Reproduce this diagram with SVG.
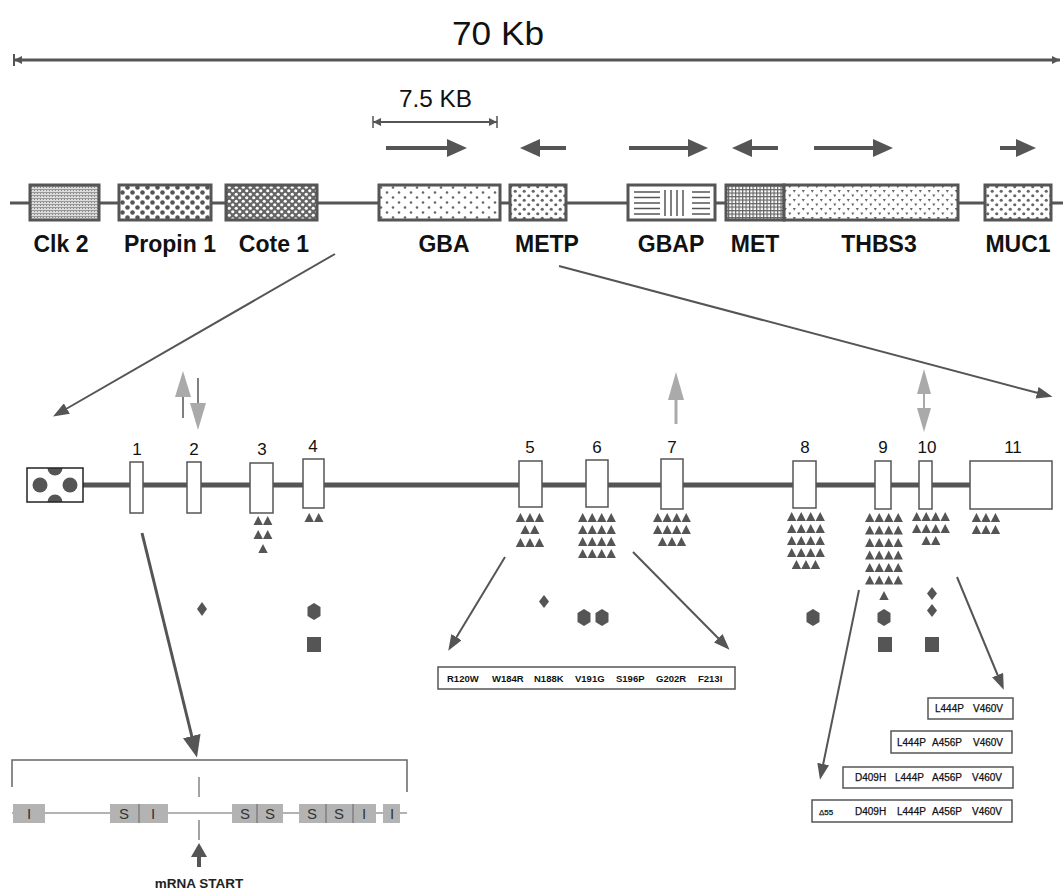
<svg xmlns="http://www.w3.org/2000/svg" xmlns:xlink="http://www.w3.org/1999/xlink" width="1063" height="891" viewBox="0 0 1063 891">
<style>
.lbl{font-family:"Liberation Sans",Arial,sans-serif;font-weight:bold;font-size:23px;fill:#111;text-anchor:middle}
.num{font-family:"Liberation Sans",Arial,sans-serif;font-size:17px;fill:#111;text-anchor:middle}
.mut{font-family:"Liberation Sans",Arial,sans-serif;font-weight:bold;font-size:9.5px;fill:#111}
.mut2{font-family:"Liberation Sans",Arial,sans-serif;font-size:10px;fill:#111;stroke:#111;stroke-width:0.25}
.gb{font-family:"Liberation Sans",Arial,sans-serif;font-size:15px;fill:#333;text-anchor:middle}
.gene{stroke:#555;stroke-width:3}
.exon{fill:#fff;stroke:#555;stroke-width:1.5}
.conn{stroke:#555;fill:none}
.mbox{fill:#fff;stroke:#555;stroke-width:1.5}
</style>
<defs>
<pattern id="pClk" width="3" height="3" patternUnits="userSpaceOnUse"><rect width="3" height="3" fill="#ddd"/><rect width="3" height="1" fill="#999"/><rect x="1" y="1" width="1" height="1" fill="#888"/></pattern>
<pattern id="pProp" width="10" height="10" patternUnits="userSpaceOnUse"><rect width="10" height="10" fill="#fff"/><circle cx="2.5" cy="2.5" r="2.3" fill="#555"/><circle cx="7.5" cy="7.5" r="2.3" fill="#555"/></pattern>
<pattern id="pCote" width="7" height="7" patternUnits="userSpaceOnUse"><rect width="7" height="7" fill="#666"/><circle cx="1.75" cy="1.75" r="1.6" fill="#fff"/><circle cx="5.25" cy="5.25" r="1.6" fill="#fff"/></pattern>
<pattern id="pGba" width="12" height="10" patternUnits="userSpaceOnUse"><rect width="12" height="10" fill="#fff"/><circle cx="3" cy="2.5" r="1.3" fill="#666"/><circle cx="9" cy="7.5" r="1.3" fill="#666"/></pattern>
<pattern id="pMetp" width="9" height="9" patternUnits="userSpaceOnUse"><rect width="9" height="9" fill="#fff"/><circle cx="2.25" cy="2.25" r="1.6" fill="#666"/><circle cx="6.75" cy="6.75" r="1.6" fill="#666"/></pattern>
<pattern id="pMet" width="3.5" height="3.5" patternUnits="userSpaceOnUse"><rect width="3.5" height="3.5" fill="#fff"/><rect width="3.5" height="1.2" fill="#666"/><rect width="1.2" height="3.5" fill="#666"/></pattern>
<pattern id="pThbs" width="9" height="9" patternUnits="userSpaceOnUse"><rect width="9" height="9" fill="#fff"/><path d="M0.8,1 L3.8,1 L2.3,3.8 Z" fill="#666"/><path d="M5.3,5.5 L8.3,5.5 L6.8,8.3 Z" fill="#666"/></pattern>
<path id="t" d="M0,9 L4.7,0 L9.4,9 Z" fill="#555"/>
<marker id="mBig" viewBox="0 0 20 18" refX="1" refY="9" markerWidth="20" markerHeight="18" markerUnits="userSpaceOnUse" orient="auto"><path d="M0,0 L20,9 L0,18 Z" fill="#555"/></marker>
<marker id="mArr" viewBox="0 0 16 12" refX="1" refY="6" markerWidth="16" markerHeight="12" markerUnits="userSpaceOnUse" orient="auto"><path d="M0,0 L16,6 L0,12 Z" fill="#555"/></marker>
<marker id="mThick" viewBox="0 0 22 18" refX="1" refY="9" markerWidth="22" markerHeight="18" markerUnits="userSpaceOnUse" orient="auto"><path d="M0,0 L22,9 L0,18 Z" fill="#555"/></marker>
<marker id="mSm" viewBox="0 0 8 8" refX="8" refY="4" markerWidth="8" markerHeight="8" markerUnits="userSpaceOnUse" orient="auto-start-reverse"><path d="M0,0 L8,4 L0,8 Z" fill="#555"/></marker>
<clipPath id="cProm"><rect x="27" y="468" width="56" height="34"/></clipPath>
</defs>
<rect width="1063" height="891" fill="#fff"/>

<g id="scale70">
<text x="498" y="45" font-family="'Liberation Sans',Arial,sans-serif" font-size="34" fill="#111" text-anchor="middle" textLength="92" lengthAdjust="spacingAndGlyphs">70 Kb</text>
<line x1="14" y1="60" x2="1060" y2="60" stroke="#555" stroke-width="3" marker-start="url(#mSm)" marker-end="url(#mSm)"/>
<line x1="14" y1="54" x2="14" y2="66" stroke="#555" stroke-width="2"/>
</g>
<g id="scale75">
<text x="399" y="107" font-family="'Liberation Sans',Arial,sans-serif" font-size="23" fill="#111" textLength="73" lengthAdjust="spacingAndGlyphs">7.5 KB</text>
<line x1="373" y1="122" x2="497" y2="122" stroke="#555" stroke-width="2" marker-start="url(#mSm)" marker-end="url(#mSm)"/>
<line x1="373" y1="116" x2="373" y2="128" stroke="#555" stroke-width="1.5"/>
<line x1="497" y1="116" x2="497" y2="128" stroke="#555" stroke-width="1.5"/>
</g>

<g id="direction-arrows" stroke="#555" stroke-width="4">
<line x1="386" y1="148" x2="448" y2="148" marker-end="url(#mBig)"/>
<line x1="566" y1="148" x2="539" y2="148" marker-end="url(#mBig)"/>
<line x1="629" y1="148" x2="689" y2="148" marker-end="url(#mBig)"/>
<line x1="778" y1="148" x2="751" y2="148" marker-end="url(#mBig)"/>
<line x1="814" y1="148" x2="874" y2="148" marker-end="url(#mBig)"/>
<line x1="1000" y1="148" x2="1017" y2="148" marker-end="url(#mBig)"/>
</g>

<g id="chromosome">
<line x1="10" y1="203" x2="1063" y2="203" stroke="#555" stroke-width="3"/>
</g>
<g id="gene-clk2"><rect x="30" y="185" width="69" height="35" fill="url(#pClk)" class="gene"/><text x="61" y="252" class="lbl">Clk 2</text></g>
<g id="gene-propin1"><rect x="119" y="185" width="92" height="35" fill="url(#pProp)" class="gene"/><text x="170" y="252" class="lbl">Propin 1</text></g>
<g id="gene-cote1"><rect x="226" y="185" width="91" height="35" fill="url(#pCote)" class="gene"/><text x="274" y="252" class="lbl">Cote 1</text></g>
<g id="gene-gba"><rect x="379" y="185" width="121" height="35" fill="url(#pGba)" class="gene"/><text x="444" y="252" class="lbl">GBA</text></g>
<g id="gene-metp"><rect x="510" y="185" width="56" height="35" fill="url(#pMetp)" class="gene"/><text x="547" y="252" class="lbl">METP</text></g>
<g id="gene-gbap"><rect x="628" y="185" width="87" height="35" fill="#fff" class="gene"/>
<g stroke="#555" stroke-width="1.5">
<line x1="634" y1="192" x2="660" y2="192"/><line x1="634" y1="197.5" x2="660" y2="197.5"/><line x1="634" y1="203" x2="660" y2="203"/><line x1="634" y1="208.5" x2="660" y2="208.5"/><line x1="634" y1="214" x2="660" y2="214"/>
<line x1="665" y1="190" x2="665" y2="216"/><line x1="671" y1="190" x2="671" y2="216"/><line x1="677" y1="190" x2="677" y2="216"/><line x1="683" y1="190" x2="683" y2="216"/>
<line x1="692" y1="192" x2="710" y2="192"/><line x1="692" y1="197.5" x2="710" y2="197.5"/><line x1="692" y1="203" x2="710" y2="203"/><line x1="692" y1="208.5" x2="710" y2="208.5"/><line x1="692" y1="214" x2="710" y2="214"/>
</g>
<text x="671" y="252" class="lbl">GBAP</text></g>
<g id="gene-met"><rect x="726" y="185" width="58" height="35" fill="url(#pMet)" class="gene"/><text x="755" y="252" class="lbl">MET</text></g>
<g id="gene-thbs3"><rect x="784" y="185" width="174" height="35" fill="url(#pThbs)" class="gene"/><text x="879" y="252" class="lbl">THBS3</text></g>
<g id="gene-muc1"><rect x="985" y="185" width="66" height="35" fill="url(#pMetp)" class="gene"/><text x="1018" y="252" class="lbl">MUC1</text></g>

<g id="connectors">
<line x1="335" y1="254" x2="66" y2="409" class="conn" stroke-width="2" marker-end="url(#mArr)"/>
<line x1="559" y1="266" x2="1038" y2="393" class="conn" stroke-width="2" marker-end="url(#mArr)"/>
<line x1="142" y1="533" x2="192" y2="737" class="conn" stroke-width="3" marker-end="url(#mThick)"/>
<line x1="505" y1="557" x2="456" y2="638" class="conn" stroke-width="2" marker-end="url(#mArr)"/>
<line x1="633" y1="552" x2="719" y2="639" class="conn" stroke-width="2" marker-end="url(#mArr)"/>
<line x1="859" y1="590" x2="823" y2="765" class="conn" stroke-width="2" marker-end="url(#mArr)"/>
<line x1="957" y1="577" x2="998" y2="676" class="conn" stroke-width="2" marker-end="url(#mArr)"/>
</g>

<g id="gray-arrows">
<line x1="183" y1="418" x2="183" y2="396" stroke="#555" stroke-width="1.5"/>
<path d="M175,397 L183,371 L191,397 Z" fill="#aaa"/>
<line x1="198" y1="378" x2="198" y2="404" stroke="#555" stroke-width="1.5"/>
<path d="M190,403 L198,430 L206,403 Z" fill="#aaa"/>
<line x1="676" y1="424" x2="676" y2="398" stroke="#aaa" stroke-width="3"/>
<path d="M668,400 L676,372 L684,400 Z" fill="#aaa"/>
<line x1="924" y1="392" x2="924" y2="410" stroke="#aaa" stroke-width="2"/>
<path d="M917,394 L924,369 L931,394 Z" fill="#aaa"/>
<path d="M917,408 L924,432 L931,408 Z" fill="#aaa"/>
</g>

<g id="gba-gene">
<line x1="83" y1="485" x2="975" y2="485" stroke="#555" stroke-width="5"/>
<g id="promoter">
<rect x="27" y="468" width="56" height="34" fill="#fff"/>
<g clip-path="url(#cProm)" fill="#555">
<circle cx="40" cy="485" r="7.5"/><circle cx="70" cy="485" r="7.5"/><circle cx="55" cy="468" r="7.5"/><circle cx="55" cy="502" r="7.5"/>
</g>
<rect x="27" y="468" width="56" height="34" fill="none" stroke="#222" stroke-width="1.5"/>
</g>
</g>

<g id="exon1"><rect x="130" y="462" width="13" height="51" class="exon"/><text x="137" y="455" class="num">1</text></g>
<g id="exon2"><rect x="187" y="462" width="14" height="51" class="exon"/><text x="194" y="455" class="num">2</text></g>
<g id="exon3"><rect x="250" y="463" width="23" height="50" class="exon"/><text x="262" y="455" class="num">3</text>
<use href="#t" x="253.5" y="516"/><use href="#t" x="263" y="516"/>
<use href="#t" x="253.5" y="530"/><use href="#t" x="263" y="530"/>
<use href="#t" x="258.3" y="544"/></g>
<g id="exon4"><rect x="303" y="459" width="21" height="49" class="exon"/><text x="313" y="452" class="num">4</text>
<use href="#t" x="304.5" y="513"/><use href="#t" x="314" y="513"/></g>
<g id="exon5"><rect x="519" y="461" width="23" height="46" class="exon"/><text x="530" y="453" class="num">5</text>
<use href="#t" x="515.75" y="513"/><use href="#t" x="525.25" y="513"/><use href="#t" x="534.75" y="513"/>
<use href="#t" x="520.5" y="525"/><use href="#t" x="530" y="525"/>
<use href="#t" x="515.75" y="538"/><use href="#t" x="525.25" y="538"/><use href="#t" x="534.75" y="538"/></g>
<g id="exon6"><rect x="586" y="460" width="22" height="47" class="exon"/><text x="597" y="453" class="num">6</text>
<use href="#t" x="578" y="513"/><use href="#t" x="587.5" y="513"/><use href="#t" x="597" y="513"/><use href="#t" x="606.5" y="513"/>
<use href="#t" x="578" y="525"/><use href="#t" x="587.5" y="525"/><use href="#t" x="597" y="525"/><use href="#t" x="606.5" y="525"/>
<use href="#t" x="578" y="537"/><use href="#t" x="587.5" y="537"/><use href="#t" x="597" y="537"/><use href="#t" x="606.5" y="537"/>
<use href="#t" x="578" y="549"/><use href="#t" x="587.5" y="549"/><use href="#t" x="597" y="549"/><use href="#t" x="606.5" y="549"/></g>
<g id="exon7"><rect x="661" y="459" width="22" height="50" class="exon"/><text x="672" y="453" class="num">7</text>
<use href="#t" x="653" y="513"/><use href="#t" x="662.5" y="513"/><use href="#t" x="672" y="513"/><use href="#t" x="681.5" y="513"/>
<use href="#t" x="653" y="525"/><use href="#t" x="662.5" y="525"/><use href="#t" x="672" y="525"/><use href="#t" x="681.5" y="525"/>
<use href="#t" x="657.75" y="537"/><use href="#t" x="667.25" y="537"/><use href="#t" x="676.75" y="537"/></g>
<g id="exon8"><rect x="793" y="461" width="23" height="47" class="exon"/><text x="805" y="453" class="num">8</text>
<use href="#t" x="787" y="512"/><use href="#t" x="796.5" y="512"/><use href="#t" x="806" y="512"/><use href="#t" x="815.5" y="512"/>
<use href="#t" x="787" y="524"/><use href="#t" x="796.5" y="524"/><use href="#t" x="806" y="524"/><use href="#t" x="815.5" y="524"/>
<use href="#t" x="787" y="536"/><use href="#t" x="796.5" y="536"/><use href="#t" x="806" y="536"/><use href="#t" x="815.5" y="536"/>
<use href="#t" x="787" y="548"/><use href="#t" x="796.5" y="548"/><use href="#t" x="806" y="548"/><use href="#t" x="815.5" y="548"/>
<use href="#t" x="791.75" y="560"/><use href="#t" x="801.25" y="560"/><use href="#t" x="810.75" y="560"/></g>
<g id="exon9"><rect x="875" y="461" width="16" height="48" class="exon"/><text x="883" y="453" class="num">9</text>
<use href="#t" x="865" y="513"/><use href="#t" x="874.5" y="513"/><use href="#t" x="884" y="513"/><use href="#t" x="893.5" y="513"/>
<use href="#t" x="865" y="525.5"/><use href="#t" x="874.5" y="525.5"/><use href="#t" x="884" y="525.5"/><use href="#t" x="893.5" y="525.5"/>
<use href="#t" x="865" y="538"/><use href="#t" x="874.5" y="538"/><use href="#t" x="884" y="538"/><use href="#t" x="893.5" y="538"/>
<use href="#t" x="865" y="550.5"/><use href="#t" x="874.5" y="550.5"/><use href="#t" x="884" y="550.5"/><use href="#t" x="893.5" y="550.5"/>
<use href="#t" x="865" y="563"/><use href="#t" x="874.5" y="563"/><use href="#t" x="884" y="563"/><use href="#t" x="893.5" y="563"/>
<use href="#t" x="865" y="575.5"/><use href="#t" x="874.5" y="575.5"/><use href="#t" x="884" y="575.5"/><use href="#t" x="893.5" y="575.5"/>
<use href="#t" x="879.3" y="591"/></g>
<g id="exon10"><rect x="919" y="461" width="13" height="48" class="exon"/><text x="927" y="453" class="num">10</text>
<use href="#t" x="912" y="512"/><use href="#t" x="921.5" y="512"/><use href="#t" x="931" y="512"/><use href="#t" x="940.5" y="512"/>
<use href="#t" x="912" y="524"/><use href="#t" x="921.5" y="524"/><use href="#t" x="931" y="524"/><use href="#t" x="940.5" y="524"/>
<use href="#t" x="921.5" y="536"/><use href="#t" x="931" y="536"/></g>
<g id="exon11"><rect x="970" y="461" width="82" height="48" class="exon"/><text x="1013" y="453" class="num">11</text>
<use href="#t" x="971.75" y="513"/><use href="#t" x="981.25" y="513"/><use href="#t" x="990.75" y="513"/>
<use href="#t" x="971.75" y="525"/><use href="#t" x="981.25" y="525"/><use href="#t" x="990.75" y="525"/></g>

<g id="symbols" fill="#555">
<path d="M202,602 L207,609 L202,616 L197,609 Z"/>
<path d="M314,603 L320.5,607 L320.5,616 L314,620 L307.5,616 L307.5,607 Z"/>
<rect x="307" y="637" width="14" height="15"/>
<path d="M544,595 L549,601.5 L544,608 L539,601.5 Z"/>
<path d="M584,609 L590.5,613 L590.5,622 L584,626 L577.5,622 L577.5,613 Z"/>
<path d="M602,609 L608.5,613 L608.5,622 L602,626 L595.5,622 L595.5,613 Z"/>
<path d="M813,609 L819.5,613 L819.5,622 L813,626 L806.5,622 L806.5,613 Z"/>
<path d="M884,609 L890.5,613 L890.5,622 L884,626 L877.5,622 L877.5,613 Z"/>
<rect x="878" y="637" width="14" height="15"/>
<path d="M932,587 L937,593.5 L932,600 L927,593.5 Z"/>
<path d="M932,604 L937,610.5 L932,617 L927,610.5 Z"/>
<rect x="925" y="637" width="14" height="15"/>
</g>

<g id="mutations-box">
<rect x="438" y="667" width="297" height="22" class="mbox"/>
<text y="681.5" class="mut"><tspan x="447">R120W</tspan><tspan x="492">W184R</tspan><tspan x="534">N188K</tspan><tspan x="575">V191G</tspan><tspan x="616">S196P</tspan><tspan x="656">G202R</tspan><tspan x="698">F213I</tspan></text>
</g>
<g id="allele1"><rect x="928" y="698" width="85" height="21" class="mbox"/>
<text y="712" class="mut2"><tspan x="935">L444P</tspan><tspan x="973">V460V</tspan></text></g>
<g id="allele2"><rect x="891" y="731" width="121" height="22" class="mbox"/>
<text y="746" class="mut2"><tspan x="897">L444P</tspan><tspan x="932">A456P</tspan><tspan x="973">V460V</tspan></text></g>
<g id="allele3"><rect x="843" y="767" width="170" height="21" class="mbox"/>
<text y="781" class="mut2"><tspan x="855">D409H</tspan><tspan x="895">L444P</tspan><tspan x="932">A456P</tspan><tspan x="972">V460V</tspan></text></g>
<g id="allele4"><rect x="812" y="800" width="200" height="22" class="mbox"/>
<text y="815" class="mut2"><tspan x="819" font-size="8">Δ55</tspan><tspan x="855">D409H</tspan><tspan x="897">L444P</tspan><tspan x="932">A456P</tspan><tspan x="972">V460V</tspan></text></g>

<g id="promoter-detail">
<path d="M12,787 L12,760 L407,760 L407,792" fill="none" stroke="#666" stroke-width="1.5"/>
<line x1="12" y1="813" x2="407" y2="813" stroke="#666" stroke-width="1.2"/>
<line x1="199" y1="777" x2="199" y2="797" stroke="#666" stroke-width="1.2"/>
<line x1="199" y1="820" x2="199" y2="840" stroke="#666" stroke-width="1.2"/>
<g fill="#b3b3b3">
<rect x="13" y="804" width="32" height="19"/>
<rect x="110" y="804" width="58" height="19"/>
<rect x="232" y="804" width="51" height="19"/>
<rect x="299" y="804" width="77" height="19"/>
<rect x="383" y="804" width="17" height="19"/>
</g>
<g stroke="#666" stroke-width="1">
<line x1="139" y1="804" x2="139" y2="823"/><line x1="257" y1="804" x2="257" y2="823"/><line x1="326" y1="804" x2="326" y2="823"/><line x1="353" y1="804" x2="353" y2="823"/>
</g>
<text x="29" y="819" class="gb">I</text>
<text x="124" y="819" class="gb">S</text><text x="153" y="819" class="gb">I</text>
<text x="245" y="819" class="gb">S</text><text x="270" y="819" class="gb">S</text>
<text x="312" y="819" class="gb">S</text><text x="339" y="819" class="gb">S</text><text x="364" y="819" class="gb">I</text>
<text x="392" y="819" class="gb">I</text>
<path d="M191,857 L199,843 L207,857 Z" fill="#555"/>
<line x1="199" y1="856" x2="199" y2="867" stroke="#555" stroke-width="4"/>
<text x="199" y="888" font-family="'Liberation Sans',Arial,sans-serif" font-weight="bold" font-size="13.5" fill="#222" text-anchor="middle">mRNA START</text>
</g>
</svg>
